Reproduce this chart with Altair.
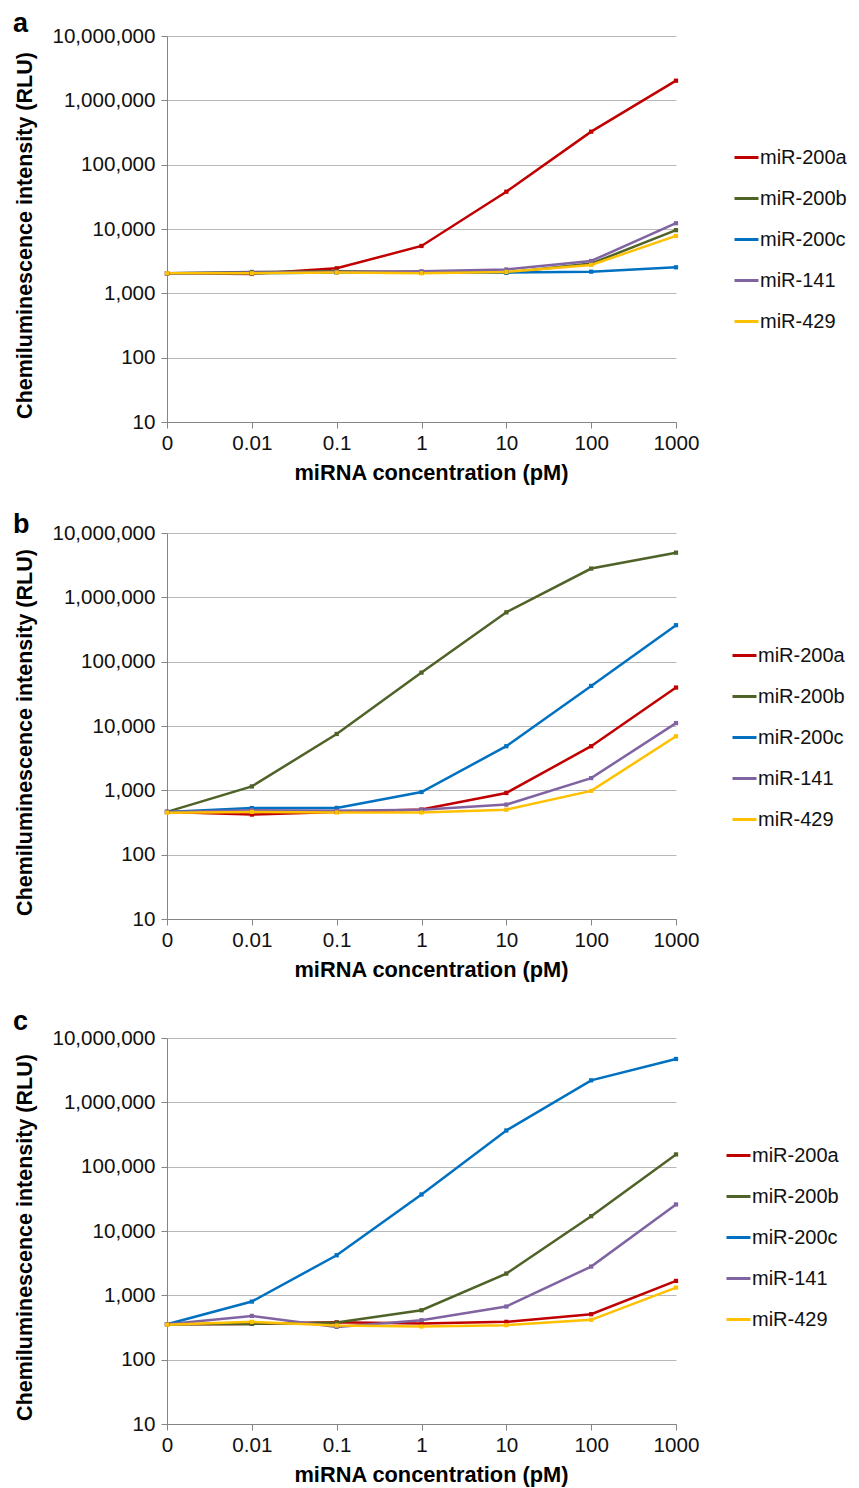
import altair as alt
import pandas as pd

concentrations = ["0", "0.01", "0.1", "1", "10", "100", "1000"]
mirnas = ["miR-200a", "miR-200b", "miR-200c", "miR-141", "miR-429"]
line_colors = ["#C00000", "#4F6228", "#0070C0", "#8064A2", "#FFC000"]
panel_letters = ["a", "b", "c"]
y_ticks = [10, 100, 1000, 10000, 100000, 1000000, 10000000]

# panel a
a_mir200a = [2050, 2000, 2450, 5450, 38000, 326000, 2020000]
a_mir200b = [2050, 2150, 2200, 2150, 2100, 2900, 9600]
a_mir200c = [2050, 2050, 2100, 2100, 2100, 2170, 2540]
a_mir141 = [2050, 2100, 2150, 2200, 2350, 3180, 12300]
a_mir429 = [2050, 2050, 2100, 2050, 2150, 2760, 7800]
# panel b
b_mir200a = [462, 420, 462, 502, 910, 4850, 39600]
b_mir200b = [462, 1150, 7520, 67600, 585000, 2800000, 4950000]
b_mir200c = [462, 530, 533, 942, 4850, 42000, 369000]
b_mir141 = [462, 490, 480, 500, 600, 1550, 11100]
b_mir429 = [450, 462, 452, 452, 500, 980, 6920]
# panel c
c_mir200a = [356, 360, 380, 365, 387, 509, 1675]
c_mir200b = [356, 360, 378, 587, 2180, 17000, 155000]
c_mir200c = [356, 800, 4200, 37000, 365000, 2200000, 4720000]
c_mir141 = [356, 479, 323, 411, 670, 2800, 25900]
c_mir429 = [350, 387, 340, 328, 344, 416, 1320]

FONT = "Liberation Sans"


def panel(letter, series_values, legend_x, legend_y, letter_y):
    rows = []
    for name, vals in zip(mirnas, series_values):
        for c, v in zip(concentrations, vals):
            rows.append({"conc": c, "mirna": name, "rlu": v})
    df = pd.DataFrame(rows)

    x = alt.X(
        "conc:O",
        sort=concentrations,
        scale=alt.Scale(type="point", padding=0),
        axis=alt.Axis(
            title="miRNA concentration (pM)",
            labelAngle=0,
            tickSize=6,
            labelPadding=5,
            titlePadding=9,
            titleFontSize=21.8,
            titleX=264,
            grid=False,
        ),
    )
    y = alt.Y(
        "rlu:Q",
        scale=alt.Scale(type="log", domain=[10, 10000000]),
        axis=alt.Axis(
            title="Chemiluminescence intensity (RLU)",
            values=y_ticks,
            format=",",
            tickSize=6,
            labelPadding=6,
            titlePadding=15,
            titleFontSize=21.5,
            titleY=199,
            grid=True,
        ),
    )
    color = alt.Color(
        "mirna:N",
        sort=mirnas,
        scale=alt.Scale(domain=mirnas, range=line_colors),
        legend=alt.Legend(
            title=None,
            orient="none",
            legendX=legend_x,
            legendY=legend_y,
            symbolType="stroke",
            symbolStrokeWidth=3,
            symbolSize=576,
            labelFontSize=20,
            labelFont=FONT,
            labelColor="#111111",
            labelOffset=0,
            rowPadding=17,
            padding=0,
        ),
    )
    base = alt.Chart(df).encode(x=x, y=y, color=color)
    lines = base.mark_line(strokeWidth=2.5)
    pts = base.mark_point(shape="square", filled=True, size=18, opacity=1)
    lab = (
        alt.Chart(pd.DataFrame({"t": [letter]}))
        .mark_text(align="left", baseline="alphabetic", fontSize=27, fontWeight="bold", font=FONT, color="#000000")
        .encode(text="t:N", x=alt.value(-154), y=alt.value(letter_y))
    )
    return alt.layer(lines, pts, lab).properties(width=509, height=386)


pa = panel(panel_letters[0], [a_mir200a, a_mir200b, a_mir200c, a_mir141, a_mir429], 566, 108, -4)
pb = panel(panel_letters[1], [b_mir200a, b_mir200b, b_mir200c, b_mir141, b_mir429], 564, 109, 0)
pc = panel(panel_letters[2], [c_mir200a, c_mir200b, c_mir200c, c_mir141, c_mir429], 558, 104, -8)

chart = (
    alt.vconcat(pa, pb, pc, spacing=26)
    .resolve_legend(color="independent")
    .properties(padding={"left": 13, "top": 10, "right": 0, "bottom": 0})
    .configure(font=FONT, background="white")
    .configure_view(strokeWidth=0)
    .configure_axis(
        labelFont=FONT,
        titleFont=FONT,
        labelFontSize=20.6,
        titleFontWeight="bold",
        labelColor="#111111",
        titleColor="#000000",
        domainColor="#858585",
        tickColor="#858585",
        gridColor="#B8B8B8",
        domainWidth=1,
        tickWidth=1,
        gridWidth=1,
    )
)

chart.save("out.html", embed_options={"renderer": "svg", "actions": False})
